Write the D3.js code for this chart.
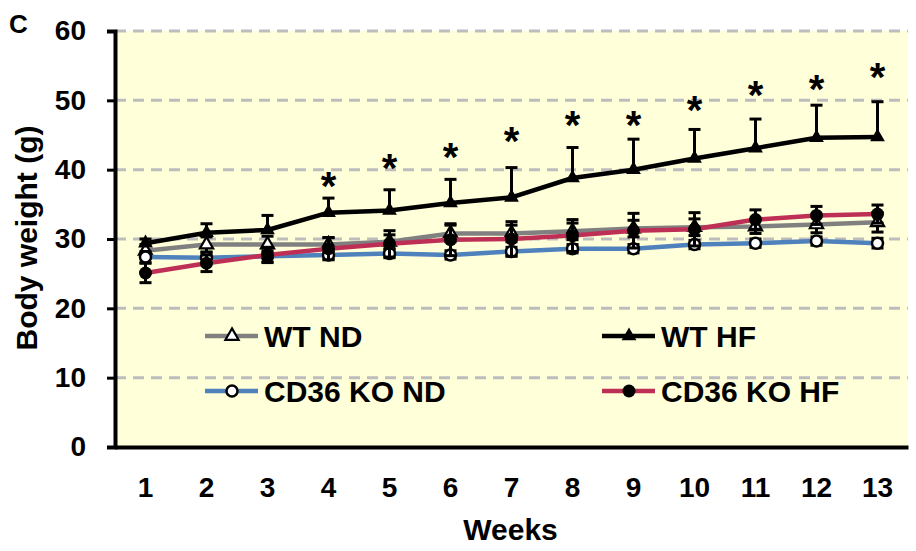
<!DOCTYPE html>
<html>
<head>
<meta charset="utf-8">
<script src="https://cdn.jsdelivr.net/npm/d3@7/dist/d3.min.js"></script>
<style>
  html, body { margin: 0; padding: 0; background: #ffffff; }
  svg { display: block; font-family: "Liberation Sans", Arial, Helvetica, sans-serif; font-weight: bold; }
</style>
</head>
<body>
<svg id="chart" width="916" height="551"></svg>
<script>
// Weekly body weight (g), mean and SEM per group
const weeks = ["1", "2", "3", "4", "5", "6", "7", "8", "9", "10", "11", "12", "13"];
const yTicks = [0, 10, 20, 30, 40, 50, 60];

const wtND     = [28.3, 29.2, 29.2, 29.2, 29.6, 30.8, 30.8, 31.1, 31.5, 31.7, 31.8, 32.1, 32.4];
const wtNDErr  = [0.9, 1.1, 1.2, 1.0, 1.0, 1.2, 1.2, 1.2, 1.2, 1.2, 1.0, 1.2, 1.4];

const wtHF     = [29.4, 30.9, 31.3, 33.8, 34.1, 35.2, 36.0, 38.8, 40.0, 41.6, 43.1, 44.6, 44.7];
const wtHFErr  = [0.6, 1.3, 2.1, 2.1, 3.0, 3.4, 4.3, 4.4, 4.4, 4.2, 4.2, 4.7, 5.1];

const koND     = [27.4, 27.3, 27.5, 27.7, 27.9, 27.7, 28.2, 28.6, 28.6, 29.2, 29.4, 29.7, 29.4];
const koNDErr  = [0.8, 0.8, 0.8, 0.6, 0.6, 0.6, 0.6, 0.6, 0.6, 0.6, 0.6, 0.6, 0.7];

const koHF     = [25.1, 26.5, 27.7, 28.6, 29.3, 29.9, 30.0, 30.5, 31.2, 31.4, 32.8, 33.4, 33.6];
const koHFErr  = [1.4, 1.2, 1.1, 1.6, 1.9, 2.3, 2.5, 2.3, 2.5, 2.4, 1.4, 1.3, 1.3];

// significance marks (WT HF vs others): week and level of the asterisk
const sigWeeks  = ["4", "5", "6", "7", "8", "9", "10", "11", "12", "13"];
const sigLevels = [39.0, 41.6, 43.2, 45.4, 47.8, 47.8, 50.0, 52.1, 52.9, 54.7];

const series = [
  { name: "WT ND",      values: wtND, err: wtNDErr, color: "#808080", marker: "triOpen",  dir: "both" },
  { name: "WT HF",      values: wtHF, err: wtHFErr, color: "#000000", marker: "triFill",  dir: "plus" },
  { name: "CD36 KO ND", values: koND, err: koNDErr, color: "#4f81bd", marker: "circOpen", dir: "both" },
  { name: "CD36 KO HF", values: koHF, err: koHFErr, color: "#be2f55", marker: "circFill", dir: "both" }
];

const svg = d3.select("#chart");
const plotLeft = 115, plotRight = 908, plotTop = 31, plotBottom = 447;

const x = d3.scaleBand().domain(weeks).range([plotLeft, plotRight]);
const cx = w => x(w) + x.bandwidth() / 2;
const y = d3.scaleLinear().domain([0, 60]).range([plotBottom, plotTop]);

// plot background
svg.append("rect")
  .attr("x", plotLeft).attr("y", plotTop)
  .attr("width", plotRight - plotLeft).attr("height", plotBottom - plotTop)
  .attr("fill", "#ffffd9");

// dashed gridlines
svg.append("g")
  .selectAll("line")
  .data(yTicks.filter(t => t > 0))
  .join("line")
  .attr("x1", plotLeft).attr("x2", plotRight)
  .attr("y1", d => y(d)).attr("y2", d => y(d))
  .attr("stroke", "#bdbdbd")
  .attr("stroke-width", 3)
  .attr("stroke-dasharray", "11,7");

// y axis
const yAxis = svg.append("g")
  .attr("transform", `translate(${plotLeft},0)`)
  .call(d3.axisLeft(y).tickValues(yTicks).tickSize(8).tickPadding(21));
yAxis.select(".domain").attr("stroke-width", 4).attr("stroke", "#000");
yAxis.selectAll(".tick line").attr("stroke-width", 3).attr("stroke", "#000");
yAxis.selectAll(".tick text")
  .attr("font-size", 28).attr("font-weight", "bold")
  .attr("font-family", "Liberation Sans, Arial, sans-serif").attr("fill", "#000");

// x axis
const xAxis = svg.append("g")
  .attr("transform", `translate(0,${plotBottom})`)
  .call(d3.axisBottom(x).tickSize(0).tickSizeOuter(0).tickPadding(30));
xAxis.select(".domain").attr("stroke-width", 4).attr("stroke", "#000");
xAxis.selectAll(".tick text")
  .attr("font-size", 28).attr("font-weight", "bold")
  .attr("font-family", "Liberation Sans, Arial, sans-serif").attr("fill", "#000");

// axis titles and panel letter
svg.append("text")
  .attr("x", (plotLeft + plotRight) / 2 - 1).attr("y", 540)
  .attr("text-anchor", "middle").attr("font-size", 30)
  .text("Weeks");

svg.append("text")
  .attr("transform", "translate(37,238) rotate(-90)")
  .attr("text-anchor", "middle").attr("font-size", 30)
  .text("Body weight (g)");

svg.append("text")
  .attr("x", 9).attr("y", 33)
  .attr("font-size", 26)
  .text("C");

// marker drawing
function drawMarker(g, type) {
  if (type === "triFill") {
    g.append("path").attr("d", d3.symbol(d3.symbolTriangle, 95)()).attr("fill", "#000");
  } else if (type === "triOpen") {
    g.append("path").attr("d", d3.symbol(d3.symbolTriangle, 75)())
      .attr("fill", "#fff").attr("stroke", "#000").attr("stroke-width", 2.2);
  } else if (type === "circOpen") {
    g.append("circle").attr("r", 5.5).attr("fill", "#fff").attr("stroke", "#000").attr("stroke-width", 2.5);
  } else {
    g.append("circle").attr("r", 6.5).attr("fill", "#000");
  }
}

const line = d3.line().x(d => cx(d.week)).y(d => y(d.v));

series.forEach(s => {
  const pts = weeks.map((w, i) => ({ week: w, v: s.values[i], e: s.err[i] }));
  const g = svg.append("g");

  // error bars
  const eb = g.append("g").attr("stroke", "#000").attr("stroke-width", 3);
  pts.forEach(p => {
    const hi = p.v + p.e;
    const lo = s.dir === "plus" ? p.v : p.v - p.e;
    const xc = cx(p.week);
    eb.append("line").attr("x1", xc).attr("x2", xc).attr("y1", y(lo)).attr("y2", y(hi));
    eb.append("line").attr("x1", xc - 6).attr("x2", xc + 6).attr("y1", y(hi)).attr("y2", y(hi));
    if (s.dir !== "plus") {
      eb.append("line").attr("x1", xc - 6).attr("x2", xc + 6).attr("y1", y(lo)).attr("y2", y(lo));
    }
  });

  // connecting line
  g.append("path")
    .datum(pts)
    .attr("d", line)
    .attr("fill", "none")
    .attr("stroke", s.color)
    .attr("stroke-width", 4.5)
    .attr("stroke-linejoin", "round");

  // markers
  g.selectAll("g.pt")
    .data(pts)
    .join("g")
    .attr("class", "pt")
    .attr("transform", d => `translate(${cx(d.week)},${y(d.v)})`)
    .each(function () { drawMarker(d3.select(this), s.marker); });
});

// significance asterisks
const starSize = 40;
svg.append("g")
  .selectAll("text")
  .data(sigWeeks.map((w, i) => ({ week: w, level: sigLevels[i] })))
  .join("text")
  .attr("x", d => cx(d.week))
  .attr("y", d => y(d.level) + starSize * 0.58)
  .attr("text-anchor", "middle")
  .attr("font-size", starSize)
  .text("*");

// legend (two columns, two rows)
const legendPos = [
  { lx: 205, ly: 336 },
  { lx: 602, ly: 336 },
  { lx: 205, ly: 391 },
  { lx: 602, ly: 391 }
];
series.forEach((s, i) => {
  const p = legendPos[i];
  const lg = svg.append("g").attr("transform", `translate(${p.lx},${p.ly})`);
  lg.append("line").attr("x1", 0).attr("x2", 53).attr("y1", 0).attr("y2", 0)
    .attr("stroke", s.color).attr("stroke-width", 4.5);
  const m = lg.append("g").attr("transform", "translate(27,0)");
  drawMarker(m, s.marker);
  lg.append("text").attr("x", 59).attr("y", 11)
    .attr("font-size", 30)
    .text(s.name);
});
</script>
</body>
</html>
